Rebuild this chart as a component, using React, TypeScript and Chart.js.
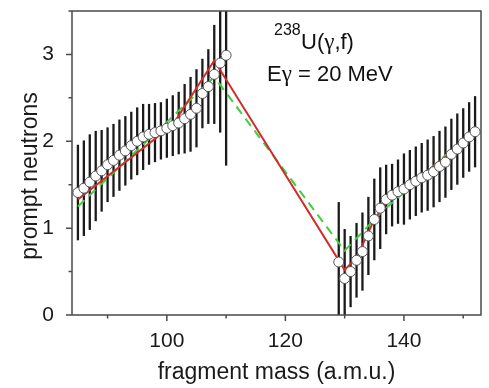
import React, { useEffect, useRef } from 'react';
import Chart from 'chart.js/auto';

// measured data, left group (light fragments)
const massA = [85, 86, 87, 88, 89, 90, 91, 92, 93, 94, 95, 96, 97, 98, 99, 100, 101, 102, 103, 104, 105, 106, 107, 108, 109, 110];
const nuA = [1.41, 1.46, 1.53, 1.6, 1.66, 1.73, 1.78, 1.84, 1.89, 1.95, 2.0, 2.05, 2.08, 2.1, 2.12, 2.15, 2.18, 2.21, 2.26, 2.31, 2.38, 2.55, 2.63, 2.77, 2.9, 2.99];
const errA = [0.55, 0.55, 0.55, 0.52, 0.47, 0.43, 0.42, 0.41, 0.4, 0.39, 0.39, 0.38, 0.35, 0.34, 0.33, 0.34, 0.35, 0.36, 0.4, 0.43, 0.45, 0.4, 0.43, 0.57, 0.8, 1.27];

// measured data, right group (heavy fragments)
const massB = [129, 130, 131, 132, 133, 134, 135, 136, 137, 138, 139, 140, 141, 142, 143, 144, 145, 146, 147, 148, 149, 150, 151, 152];
const nuB = [0.61, 0.42, 0.5, 0.63, 0.73, 0.91, 1.1, 1.23, 1.33, 1.38, 1.42, 1.45, 1.5, 1.54, 1.58, 1.61, 1.65, 1.71, 1.76, 1.85, 1.91, 1.98, 2.05, 2.11];
const errB = [0.69, 0.57, 0.41, 0.43, 0.45, 0.45, 0.47, 0.47, 0.4, 0.36, 0.37, 0.41, 0.4, 0.4, 0.4, 0.41, 0.41, 0.41, 0.41, 0.41, 0.41, 0.4, 0.4, 0.41];

// model curves
const redX = [85, 101, 108, 130, 132, 135, 137, 152];
const redY = [1.33, 2.19, 2.93, 0.52, 0.66, 1.1, 1.29, 2.08];
const greenX = [85, 108, 130, 136, 152];
const greenY = [1.25, 2.74, 0.74, 1.17, 2.14];

// axes
const xMin = 84;
const xMax = 153;
const yMin = 0;
const yMax = 3.5;
const xLabelEvery = 20;
const yLabelEvery = 1;
const xTitle = 'fragment mass (a.m.u.)';
const yTitle = 'prompt neutrons';

const FONT = '"Liberation Sans", Arial, sans-serif';
const AXIS_COLOR = '#4a4a4a';

const pts = (xs: number[], ys: number[]) => xs.map((x, i) => ({ x, y: ys[i] }));

const decorPlugin = {
  id: 'decor',
  beforeDatasetsDraw(chart: any) {
    const { ctx, chartArea: a, scales } = chart;
    const xs = scales.x;
    const ys = scales.y;
    ctx.save();
    ctx.beginPath();
    ctx.rect(a.left, a.top, a.right - a.left, a.bottom - a.top);
    ctx.clip();
    ctx.strokeStyle = '#1a1a1a';
    ctx.lineWidth = 2.3;
    const groups: [number[], number[], number[]][] = [
      [massA, nuA, errA],
      [massB, nuB, errB],
    ];
    groups.forEach(([m, v, e]) => {
      m.forEach((mm, i) => {
        const px = xs.getPixelForValue(mm);
        ctx.beginPath();
        ctx.moveTo(px, ys.getPixelForValue(v[i] - e[i]));
        ctx.lineTo(px, ys.getPixelForValue(v[i] + e[i]));
        ctx.stroke();
      });
    });
    ctx.restore();
  },
  afterDraw(chart: any) {
    const { ctx, chartArea: a, scales } = chart;
    const xs = scales.x;
    const ys = scales.y;
    ctx.save();
    ctx.strokeStyle = AXIS_COLOR;
    ctx.lineWidth = 1.5;
    ctx.beginPath();
    ctx.moveTo(a.left, a.top);
    ctx.lineTo(a.right, a.top);
    ctx.lineTo(a.right, a.bottom);
    ctx.lineTo(a.left, a.bottom);
    ctx.closePath();
    // ticks outside
    xs.ticks.forEach((t: any) => {
      const px = xs.getPixelForValue(t.value);
      const len = t.value % xLabelEvery === 0 ? 6 : 3.5;
      ctx.moveTo(px, a.bottom);
      ctx.lineTo(px, a.bottom + len);
    });
    ys.ticks.forEach((t: any) => {
      const py = ys.getPixelForValue(t.value);
      const len = Math.abs(t.value % yLabelEvery) < 1e-9 ? 6 : 3.5;
      ctx.moveTo(a.left, py);
      ctx.lineTo(a.left - len, py);
    });
    ctx.stroke();

    const sans = (s: number) => `${s}px ${FONT}`;
    const serif = (s: number) => `${s}px "Liberation Serif", serif`;

    // axis titles
    ctx.fillStyle = '#1a1a1a';
    ctx.font = sans(23);
    ctx.textAlign = 'center';
    ctx.textBaseline = 'middle';
    ctx.fillText(xTitle, (a.left + a.right) / 2, 373);
    ctx.save();
    ctx.translate(31, 176);
    ctx.rotate(-Math.PI / 2);
    ctx.fillText(yTitle, 0, 0);
    ctx.restore();

    // annotation
    ctx.fillStyle = '#111';
    ctx.textAlign = 'left';
    ctx.textBaseline = 'alphabetic';
    const drawRun = (parts: [string, string][], x: number, y: number) => {
      let cx = x;
      parts.forEach(([txt, font]) => {
        ctx.font = font;
        ctx.fillText(txt, cx, y);
        cx += ctx.measureText(txt).width;
      });
    };
    drawRun([['238', sans(16)]], 274, 35);
    drawRun(
      [
        ['U(', sans(22)],
        ['γ', serif(23)],
        [',f)', sans(22)],
      ],
      301,
      49
    );
    drawRun(
      [
        ['E', sans(22)],
        ['γ', serif(23)],
        [' = 20 MeV', sans(22)],
      ],
      267,
      81
    );
    ctx.restore();
  },
};

export default function App() {
  const ref = useRef<HTMLCanvasElement | null>(null);
  useEffect(() => {
    if (!ref.current) return;
    const chart = new Chart(ref.current, {
      type: 'scatter',
      data: {
        datasets: [
          {
            label: 'data A',
            data: pts(massA, nuA),
            showLine: false,
            pointRadius: 5,
            pointBackgroundColor: '#ffffff',
            pointBorderColor: '#555555',
            pointBorderWidth: 1,
            order: 1,
          },
          {
            label: 'data B',
            data: pts(massB, nuB),
            showLine: false,
            pointRadius: 5,
            pointBackgroundColor: '#ffffff',
            pointBorderColor: '#555555',
            pointBorderWidth: 1,
            order: 1,
          },
          {
            label: 'model 1',
            data: pts(greenX, greenY),
            showLine: true,
            pointRadius: 0,
            borderColor: '#3fcf3f',
            borderWidth: 2,
            borderDash: [9, 6],
            order: 3,
          },
          {
            label: 'model 2',
            data: pts(redX, redY),
            showLine: true,
            pointRadius: 0,
            borderColor: '#d42a2a',
            borderWidth: 2,
            order: 2,
          },
        ],
      },
      options: {
        animation: false,
        responsive: true,
        maintainAspectRatio: false,
        layout: { padding: { top: 11, right: 8, left: 0, bottom: 0 } },
        plugins: { legend: { display: false }, tooltip: { enabled: false }, title: { display: false } },
        scales: {
          x: {
            type: 'linear',
            min: xMin,
            max: xMax,
            grid: { display: false },
            border: { display: false },
            ticks: {
              stepSize: 10,
              includeBounds: false,
              padding: 6,
              color: '#1a1a1a',
              font: { family: FONT, size: 21 },
              maxRotation: 0,
              callback: (v: any) => (Number(v) % xLabelEvery === 0 ? String(v) : ''),
            },
            title: { display: false },
            afterFit: (s: any) => {
              s.height = 73;
              s.paddingLeft = 0;
              s.paddingRight = 0;
            },
          },
          y: {
            type: 'linear',
            min: yMin,
            max: yMax,
            grid: { display: false },
            border: { display: false },
            ticks: {
              stepSize: 0.5,
              includeBounds: false,
              padding: 10,
              color: '#1a1a1a',
              font: { family: FONT, size: 21 },
              callback: (v: any) => (Math.abs(Number(v) % yLabelEvery) < 1e-9 ? String(v) : ''),
            },
            title: { display: false },
            afterFit: (s: any) => {
              s.width = 72;
              s.paddingTop = 0;
              s.paddingBottom = 0;
            },
          },
        },
      },
      plugins: [decorPlugin],
    });
    return () => chart.destroy();
  }, []);
  return (
    <div style={{ position: 'fixed', left: 0, top: 0, width: 489, height: 388, background: '#fff' }}>
      <canvas ref={ref} />
    </div>
  );
}
